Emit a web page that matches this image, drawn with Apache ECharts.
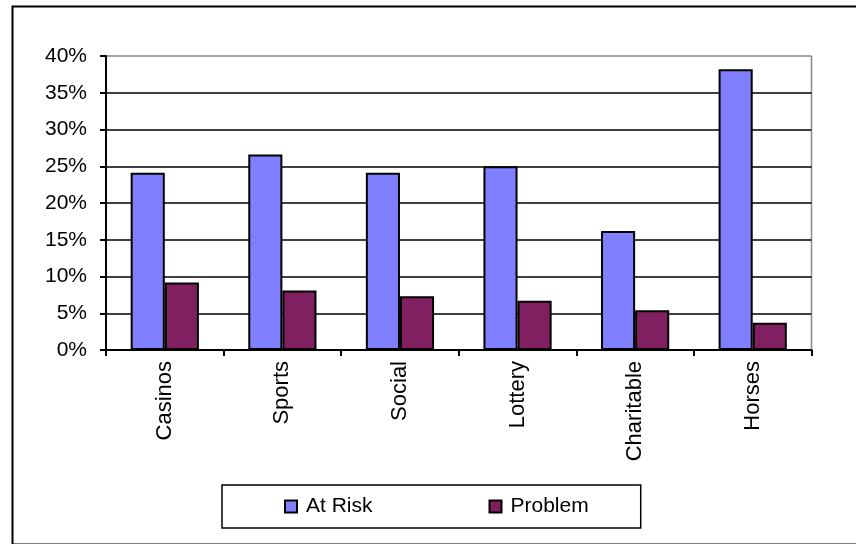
<!DOCTYPE html>
<html>
<head>
<meta charset="utf-8">
<script src="https://cdn.jsdelivr.net/npm/echarts@6/dist/echarts.min.js"></script>
<style>
html,body{margin:0;padding:0;background:#fff;}
#chart{width:856px;height:544px;}
</style>
</head>
<body>
<div id="chart"></div>
<script>
const categories = ['Casinos', 'Sports', 'Social', 'Lottery', 'Charitable', 'Horses'];
const atRisk = [24.1, 26.6, 24.1, 25.0, 16.2, 38.2];
const problem = [9.2, 8.1, 7.3, 6.7, 5.4, 3.7];
const seriesNames = ['At Risk', 'Problem'];
const yTicks = [0, 5, 10, 15, 20, 25, 30, 35, 40];

const FONT = '"Liberation Sans", Arial, sans-serif';
const chart = echarts.init(document.getElementById('chart'), null, {renderer: 'canvas'});
const splitColors = yTicks.map((t, i) => i === yTicks.length - 1 ? '#888888' : '#000000');

chart.setOption({
  animation: false,
  backgroundColor: '#ffffff',
  graphic: [{
    type: 'rect',
    left: 10, top: 4,
    shape: {width: 860, height: 538},
    style: {fill: 'none', stroke: '#000', lineWidth: 2},
    silent: true
  }, {
    type: 'line',
    shape: {x1: 811.5, y1: 56, x2: 811.5, y2: 350},
    style: {stroke: '#888888', lineWidth: 1.5},
    silent: true
  }],
  grid: {left: 106, right: 44.5, top: 56, bottom: 194, containLabel: false},
  legend: {
    data: seriesNames,
    left: 222, top: 485,
    orient: 'horizontal',
    itemWidth: 12, itemHeight: 12,
    itemGap: 116,
    icon: 'rect',
    padding: [11, 52, 11, 62],
    borderColor: '#000', borderWidth: 1.5,
    textStyle: {fontFamily: FONT, fontSize: 21, color: '#000', padding: [0, 0, 0, 4]}
  },
  xAxis: {
    type: 'category',
    data: categories,
    axisLine: {lineStyle: {color: '#000', width: 2}},
    axisTick: {show: true, length: 6, lineStyle: {color: '#000', width: 2}, alignWithLabel: false},
    axisLabel: {rotate: 90, margin: 11, fontFamily: FONT, fontSize: 22, color: '#000'}
  },
  yAxis: {
    type: 'value',
    min: 0, max: 40, interval: 5,
    axisLine: {show: true, lineStyle: {color: '#000', width: 2}},
    axisTick: {show: true, length: 6, lineStyle: {color: '#000', width: 2}},
    axisLabel: {formatter: '{value}%', margin: 19, fontFamily: FONT, fontSize: 21, color: '#000'},
    splitLine: {show: true, lineStyle: {color: splitColors, width: 1.7}}
  },
  series: [{
    name: seriesNames[0],
    type: 'bar',
    data: atRisk,
    barGap: '0%',
    barCategoryGap: '42%',
    itemStyle: {color: '#8080FF', borderColor: '#000', borderWidth: 2}
  }, {
    name: seriesNames[1],
    type: 'bar',
    data: problem,
    itemStyle: {color: '#802060', borderColor: '#000', borderWidth: 2}
  }]
});
</script>
</body>
</html>
